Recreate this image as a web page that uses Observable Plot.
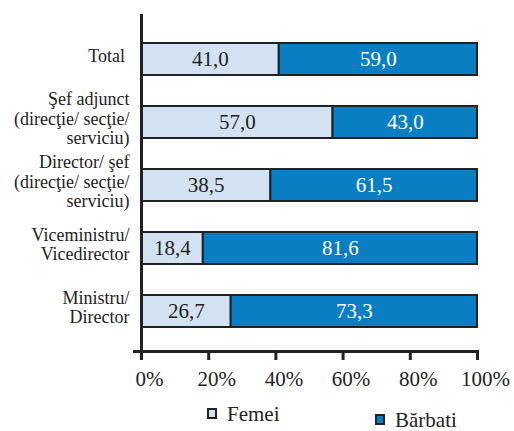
<!DOCTYPE html>
<html>
<head>
<meta charset="utf-8">
<script src="https://cdn.jsdelivr.net/npm/d3@7"></script>
<script src="https://cdn.jsdelivr.net/npm/@observablehq/plot@0.6"></script>
</head>
<body style="margin:0;padding:0;background:#fff">
<div id="wrap" style="position:relative;width:514px;height:431px;font-family:'Liberation Serif', serif"></div>
<script>
const categories = [
  "Total",
  "Şef adjunct\n(direcţie/ secţie/\nserviciu)",
  "Director/ şef\n(direcţie/ secţie/\nserviciu)",
  "Viceministru/\nVicedirector",
  "Ministru/\nDirector"
];
const series = ["Femei", "Bărbati"];
const femei = [41.0, 57.0, 38.5, 18.4, 26.7];
const barbati = [59.0, 43.0, 61.5, 81.6, 73.3];
const xTicks = [0, 20, 40, 60, 80, 100];
const colors = ["#d3e2f3", "#0a7ec3"];

const FONT = "Liberation Serif";
const data = [];
categories.forEach((c, i) => {
  data.push({cat: c, series: series[0], value: femei[i]});
  data.push({cat: c, series: series[1], value: barbati[i]});
});
const fmt = v => v.toFixed(1).replace(".", ",");

const plot = Plot.plot({
  width: 514,
  height: 395,
  marginLeft: 141,
  marginRight: 37,
  marginTop: 14,
  marginBottom: 44,
  style: "font-family: 'Liberation Serif', serif; font-size: 18px; color: #222; background: #fff;",
  x: {domain: [0, 100], ticks: xTicks, tickFormat: d => d + "%"},
  y: {domain: categories, range: [26.4, 342.6], paddingInner: 0.494, paddingOuter: 0.247},
  color: {domain: series, range: colors},
  marks: [
    Plot.barX(data, Plot.stackX({x: "value", y: "cat", z: "series", order: series, fill: "series", stroke: "#222", strokeWidth: 2})),
    Plot.text(data, Plot.stackX({x: "value", y: "cat", z: "series", order: series, text: d => fmt(d.value),
      fill: d => d.series === "Femei" ? "#222" : "#fff", fontSize: 21, fontFamily: FONT})),
    Plot.ruleX([0], {stroke: "#222", strokeWidth: 3}),
    Plot.frame({anchor: "bottom", stroke: "#222", strokeWidth: 3, insetLeft: -7}),
    Plot.axisX({anchor: "bottom", ticks: xTicks, tickFormat: () => "", tickSize: 9, strokeWidth: 3, stroke: "#222", label: null}),
    Plot.axisX({anchor: "bottom", ticks: xTicks, tickFormat: d => d + "%", tickSize: 0, tickPadding: 20, fontSize: 21, fontFamily: FONT, label: null, dx: 8}),
    Plot.axisY({anchor: "left", tickSize: 0, tickPadding: 12, lineHeight: 1.07, dy: -4, label: null, fontFamily: FONT,
      tickFormat: d => d === "Total" ? "Total\u00a0" : d, fontSize: 18, textAnchor: "end"})
  ]
});
const wrap = document.getElementById("wrap");
wrap.appendChild(plot);

const legPos = [{left: 207, top: 402}, {left: 375, top: 408}];
series.forEach((s, i) => {
  const d = document.createElement("div");
  d.style.cssText = "position:absolute;left:" + legPos[i].left + "px;top:" + legPos[i].top +
    "px;font-family:'Liberation Serif', serif;font-size:21px;line-height:24px;color:#222;display:flex;align-items:center;";
  const sw = document.createElement("div");
  sw.style.cssText = "width:10px;height:11px;border:2px solid #222;box-sizing:border-box;margin-right:10px;margin-top:-2px;background:" + colors[i];
  d.appendChild(sw);
  const t = document.createElement("span");
  t.textContent = s;
  d.appendChild(t);
  wrap.appendChild(d);
});
</script>
</body>
</html>
